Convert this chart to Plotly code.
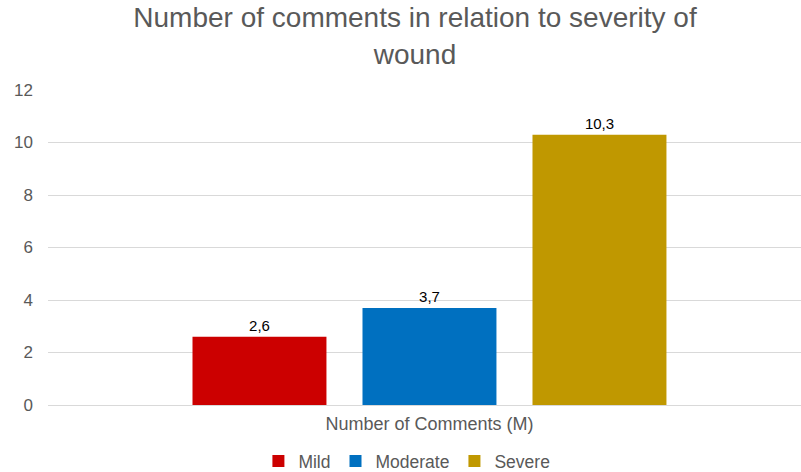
import plotly.graph_objects as go

# ---- data ----
category = ["Number of Comments (M)"]
series_names = ["Mild", "Moderate", "Severe"]
series_values = [2.6, 3.7, 10.3]
series_colors = ["#CC0000", "#0070C0", "#C09800"]
title_text = "Number of comments in relation to severity of<br>wound"
y_ticks = [0, 2, 4, 6, 8, 10, 12]

FONT = "Liberation Sans, Arial, sans-serif"
GRAY = "#595959"

fig = go.Figure()
for name, val, col in zip(series_names, series_values, series_colors):
    fig.add_trace(go.Bar(
        x=category, y=[val], name=name,
        marker=dict(color=col, line=dict(width=0)),
        texttemplate="%{y:.1f}", textposition="outside",
        textfont=dict(family=FONT, size=15, color="#000000"),
        cliponaxis=False,
    ))

fig.update_layout(
    width=801, height=472,
    margin=dict(l=48, r=0, t=90, b=67),
    paper_bgcolor="white", plot_bgcolor="white",
    separators=", ",
    barmode="group", bargap=0.2, bargroupgap=0.212,
    title=dict(text=title_text, x=415/801, xref="container", xanchor="center",
               y=0.942, yref="container", yanchor="top",
               font=dict(family=FONT, size=28, color=GRAY)),
    legend=dict(orientation="h", xref="container", yref="container",
                x=0.508, xanchor="center", y=11/472, yanchor="middle",
                font=dict(family=FONT, size=17.5, color=GRAY),
                traceorder="normal", itemwidth=30),
    showlegend=True,
)
fig.update_xaxes(range=[-0.5984, 0.5828], showgrid=False, showline=False,
                 zeroline=False, ticks="", ticklabelstandoff=6,
                 tickfont=dict(family=FONT, size=18, color=GRAY))
fig.update_yaxes(range=[0, 12], tickvals=y_ticks, showgrid=True,
                 gridcolor="#D9D9D9", gridwidth=1, zeroline=True,
                 zerolinecolor="#D9D9D9", zerolinewidth=1, showline=False,
                 ticks="", ticklabelstandoff=14,
                 tickfont=dict(family=FONT, size=17, color=GRAY))

fig.write_html("out.html", config={"displayModeBar": False},
               post_script="document.body.style.margin='0';document.body.style.padding='0';")
